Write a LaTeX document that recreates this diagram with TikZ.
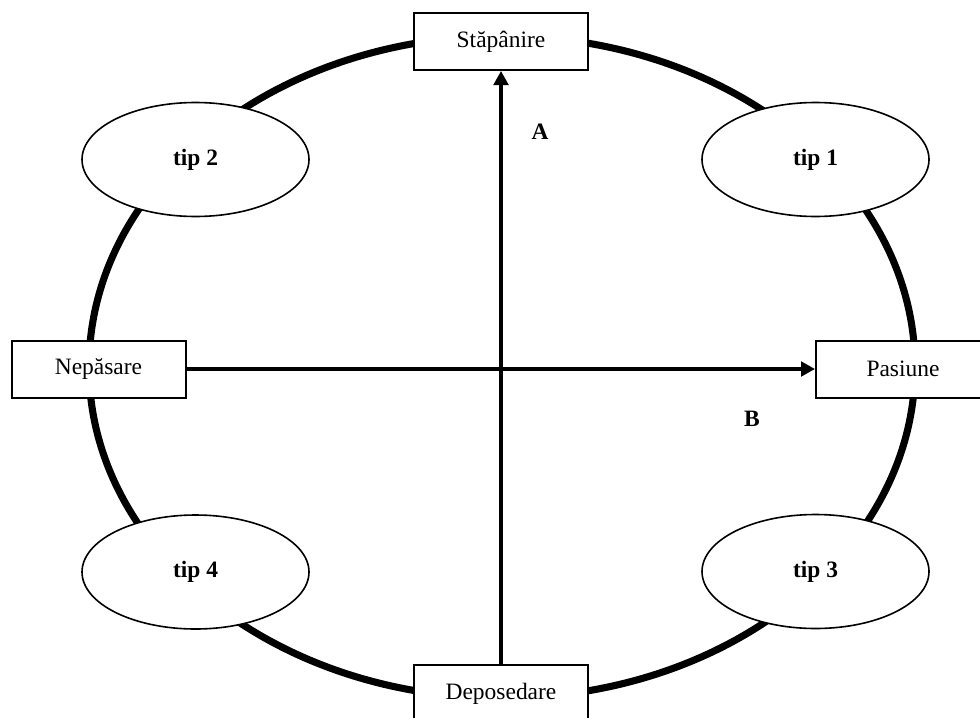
\documentclass[tikz,border=0pt]{standalone}
\usepackage{fontspec}
\setmainfont{Liberation Serif}
\usetikzlibrary{arrows.meta,shapes.geometric}
\begin{document}
\begin{tikzpicture}[x=0.75pt,y=-0.75pt,
  every node/.style={font=\fontsize{17.6}{20}\selectfont},
  labelbox/.style={draw,line width=1.5pt,fill=white,minimum width=130.5pt,minimum height=42.75pt,inner sep=0pt},
  tipell/.style={draw,ellipse,line width=1.2pt,fill=white,minimum width=170.25pt,minimum height=85.5pt,inner sep=0pt,font=\fontsize{17.6}{20}\selectfont\bfseries},
  axis/.style={line width=2.3pt,-{Triangle[length=10.5pt,width=11pt]}},
  lbl/.style={font=\fontsize{17.6}{20}\selectfont\bfseries}]
\useasboundingbox (0,0) rectangle (980,717);
\clip (0,0) rectangle (980,717);
\draw[line width=5.3pt] (502,367) ellipse [x radius=413*0.75pt, y radius=331*0.75pt];
\node[tipell] (t1) at (815.5,159.5) {tip 1};
\node[tipell] (t2) at (195.5,159.5) {tip 2};
\node[tipell] (t3) at (815.5,571.5) {tip 3};
\node[tipell] (t4) at (195.5,572) {tip 4};
\node[labelbox] (st) at (501,41.5) {Stăpânire};
\node[labelbox] (dep) at (501,693.5) {Deposedare};
\node[labelbox] (nep) at (98.5,369) {Nepăsare};
\node[labelbox] (pas) at (903,369) {Pasiune};
\draw[axis] (dep.north) -- (st.south);
\draw[axis] (nep.east) -- (pas.west);
\node[lbl] (a) at (540,132) {A};
\node[lbl] (b) at (752,419) {B};
\end{tikzpicture}
\end{document}
